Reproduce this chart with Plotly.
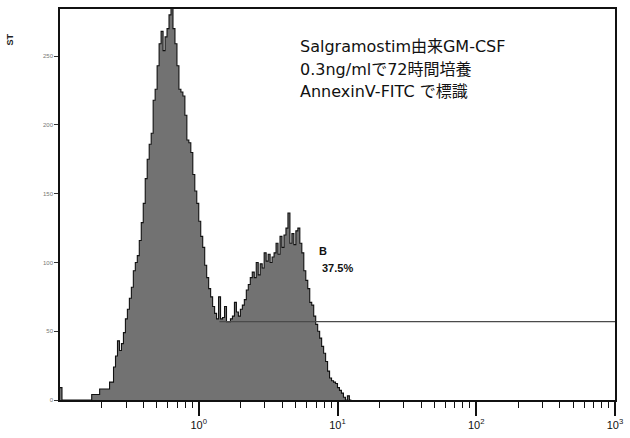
import numpy as np
import plotly.graph_objects as go

# --- Histogram data: AnnexinV-FITC fluorescence, channels of 1/70 decade from 10^-1 ---
LOG_START = -1.0
CHANNEL_WIDTH = 1.0 / 70.0
counts = [
    9,
    0, 0, 0, 0, 0, 0, 0, 0, 0, 0, 0, 0, 0, 0, 0,
    4, 4, 4, 4, 8, 8, 8, 8, 8, 13, 13, 24, 32, 43, 36, 41, 49, 59, 66, 74,
    82, 94, 100, 105, 116, 129, 143, 161, 175, 186, 194, 218, 226, 243, 259, 268,
    254, 264, 270, 280, 286, 270, 259, 243, 226, 224, 221, 207, 189, 187, 180, 164,
    152, 143, 130, 119, 111, 98, 89, 81, 75, 68, 63, 59, 75, 59, 60, 68,
    57, 57, 59, 61, 71, 64, 61, 66, 69, 73, 80, 84, 89, 93, 89, 100,
    91, 99, 96, 107, 101, 106, 100, 104, 107, 114, 106, 119, 111, 120, 125, 136,
    114, 121, 113, 123, 125, 114, 107, 94, 87, 81, 71, 69, 61, 55, 50, 45,
    39, 34, 28, 21, 16, 14, 13, 12, 9, 7, 5, 2, 0, 3, 0,
]

# Marker gate B
gate_from = 1.41
gate_to = 1000.0
gate_level = 57
gate_name = "B"
gate_percent = "37.5%"

# Axis settings
y_max = 284.3
y_ticks = [0, 50, 100, 150, 200, 250]
x_major = [1, 10, 100, 1000]
x_major_text = ["10<sup>0</sup>", "10<sup>1</sup>", "10<sup>2</sup>", "10<sup>3</sup>"]
x_minor = [m * 10.0 ** e for e in range(-1, 3) for m in range(2, 10)]

info_lines = [
    "Salgramostim由来GM-CSF",
    "0.3ng/mlで72時間培養",
    "AnnexinV-FITC で標識",
]
y_title = "ST"

# Step outline of the histogram
n = len(counts)
edges = 10.0 ** (LOG_START + CHANNEL_WIDTH * np.arange(n + 1))
step_x = list(edges[:-1]) + [edges[-1]]
step_y = list(counts) + [counts[-1]]

fig = go.Figure()
fig.add_trace(go.Scatter(
    x=step_x, y=step_y, mode="lines", line_shape="hv",
    line=dict(color="#111111", width=1.1),
    fill="tozeroy", fillcolor="#727272",
    hoverinfo="skip", showlegend=False,
))
fig.add_trace(go.Scatter(
    x=[gate_from, gate_to], y=[gate_level, gate_level], mode="lines",
    line=dict(color="#4a4a4a", width=1.2),
    hoverinfo="skip", showlegend=False,
))

BASE_FONT = "DejaVu Sans, Noto Sans CJK JP, sans-serif"
LABEL_FONT = "Liberation Sans, Arial, sans-serif"
annotations = []
for i, line in enumerate(info_lines):
    annotations.append(dict(
        xref="paper", yref="paper", x=0.428, y=0.903 - i * 0.0565,
        xanchor="left", yanchor="middle", showarrow=False,
        text=line, font=dict(family=BASE_FONT, size=16, color="#111111"),
    ))
annotations.append(dict(
    xref="x", yref="y", x=np.log10(7.1), y=108,
    xanchor="left", yanchor="middle", showarrow=False,
    text="<b>" + gate_name + "</b>",
    font=dict(family=LABEL_FONT, size=11, color="#111111"),
))
annotations.append(dict(
    xref="x", yref="y", x=np.log10(7.5), y=96,
    xanchor="left", yanchor="middle", showarrow=False,
    text="<b>" + gate_percent + "</b>",
    font=dict(family=LABEL_FONT, size=11, color="#111111"),
))
annotations.append(dict(
    xref="paper", yref="paper", x=-0.09, y=0.922,
    xanchor="center", yanchor="middle", showarrow=False, textangle=-90,
    text="<b>" + y_title + "</b>",
    font=dict(family=LABEL_FONT, size=9, color="#222222"),
))

fig.update_layout(
    width=630, height=438,
    margin=dict(l=60, r=13, t=7, b=33),
    paper_bgcolor="white", plot_bgcolor="white",
    annotations=annotations,
    showlegend=False,
)
fig.update_xaxes(
    type="log", range=[-1, 3],
    tickmode="array", tickvals=x_major, ticktext=x_major_text,
    ticks="outside", ticklen=14, tickwidth=1.5, tickcolor="#111111",
    minor=dict(tickmode="array", tickvals=x_minor, ticks="outside",
               ticklen=6, tickwidth=1, tickcolor="#111111", showgrid=False),
    showgrid=False, zeroline=False,
    showline=True, linecolor="#111111", linewidth=1.5, mirror=True,
    tickfont=dict(family=LABEL_FONT, size=11, color="#111111"),
)
fig.update_yaxes(
    range=[0, y_max],
    tickmode="array", tickvals=y_ticks,
    ticks="outside", ticklen=4, tickwidth=1, tickcolor="#333333",
    showgrid=False, zeroline=False,
    showline=True, linecolor="#111111", linewidth=1.5, mirror=True,
    tickfont=dict(family=LABEL_FONT, size=6, color="#777777"),
)

fig.write_html("out.html")
